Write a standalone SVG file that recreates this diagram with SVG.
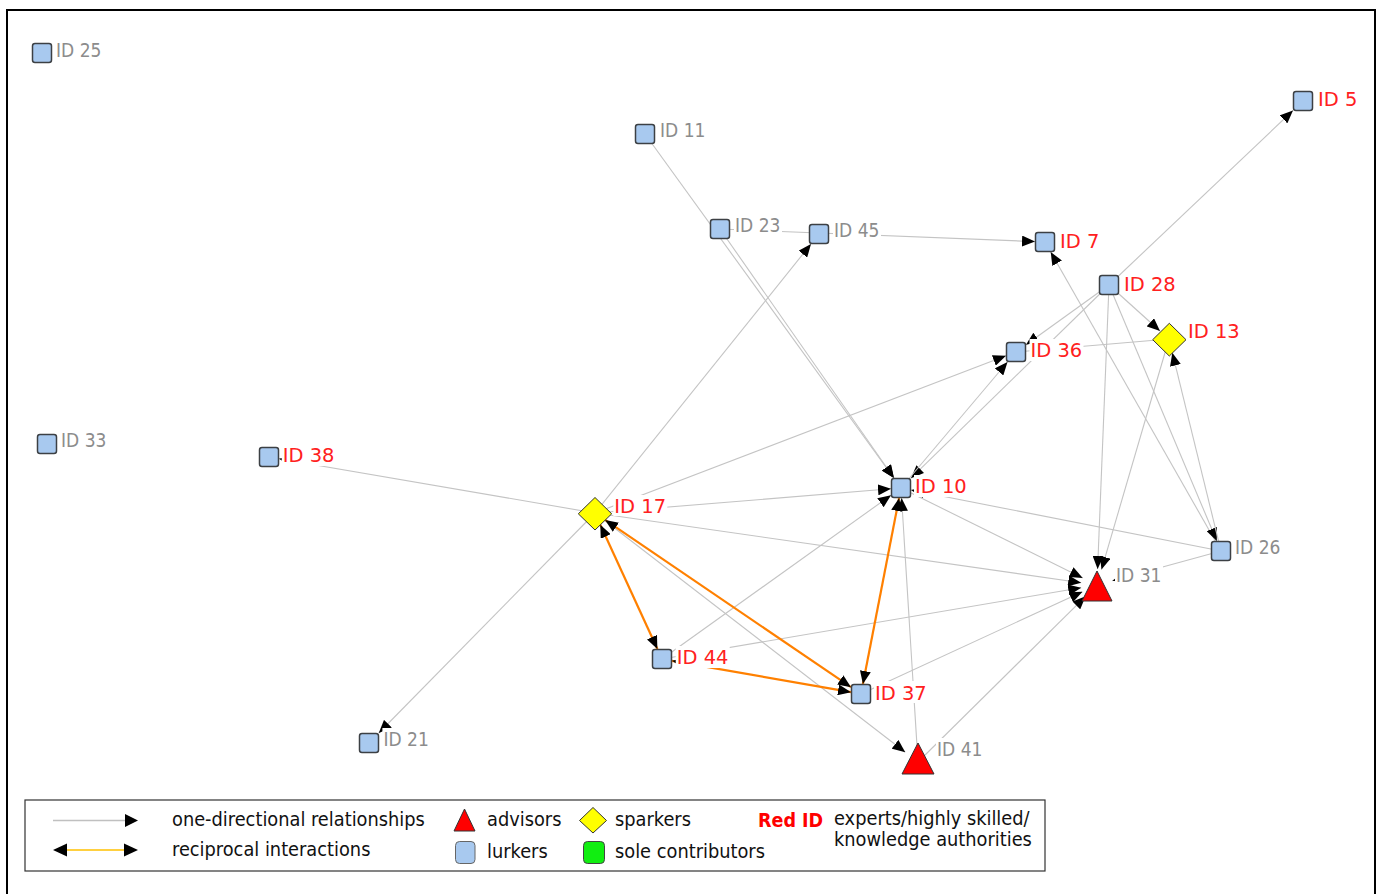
<svg xmlns="http://www.w3.org/2000/svg" width="1380" height="894" viewBox="0 0 1380 894">
<style>
.e{stroke:#c4c4c4;stroke-width:1.1;fill:none;marker-end:url(#ah)}
.p{stroke:#c4c4c4;stroke-width:1.1;fill:none}
.o{stroke:#ff8000;stroke-width:2.2;fill:none;marker-start:url(#ahr);marker-end:url(#ahr)}
.sq{fill:#a8c9ef;stroke:#3c4044;stroke-width:1.5}
.dm{fill:#ffff00;stroke:#333;stroke-width:1}
.tr{fill:#ff0000;stroke:#333;stroke-width:1}
.bg{fill:#fff}
.lr{font-family:'DejaVu Sans',Verdana,sans-serif;font-size:19.5px;fill:#ff2020}
.lg{font-family:'DejaVu Sans Condensed','DejaVu Sans',sans-serif;font-stretch:condensed;font-size:19px;fill:#8c8c8c}
.lt{font-family:'DejaVu Sans Condensed','DejaVu Sans',sans-serif;font-stretch:condensed;font-size:19.8px;fill:#111}
</style>
<defs>
<marker id="ah" viewBox="0 0 13 11" refX="13" refY="5.5" markerWidth="13" markerHeight="11" markerUnits="userSpaceOnUse" orient="auto"><path d="M0,0L13,5.5L0,11z" fill="#000"/></marker>
<marker id="ahr" viewBox="0 0 13 11" refX="13" refY="5.5" markerWidth="13" markerHeight="11" markerUnits="userSpaceOnUse" orient="auto-start-reverse"><path d="M0,0L13,5.5L0,11z" fill="#000"/></marker>
</defs>
<rect x="0" y="0" width="1380" height="894" fill="#fff"/>
<rect x="7" y="10" width="1368" height="900" fill="none" stroke="#000" stroke-width="2"/>

<g id="connectors">
<line class="e" x1="645" y1="134" x2="893.8" y2="478"/>
<line class="e" x1="720" y1="229" x2="894" y2="478"/>
<line class="e" x1="720" y1="229" x2="1035" y2="241.6"/>
<line class="e" x1="595" y1="513" x2="811" y2="244"/>
<line class="e" x1="595" y1="513" x2="378.8" y2="733"/>
<line class="e" x1="1109" y1="285" x2="1293" y2="110.5"/>
<line class="e" x1="1221" y1="551" x2="1050.7" y2="252"/>
<line class="e" x1="1109" y1="285" x2="1160" y2="331"/>
<line class="e" x1="1109" y1="285" x2="1026" y2="344.8"/>
<line class="e" x1="1109" y1="285" x2="911" y2="478.2"/>
<line class="e" x1="901" y1="488" x2="1007.5" y2="362"/>
<line class="p" x1="1169" y1="339" x2="1016" y2="352"/>
<line class="e" x1="1109" y1="285" x2="1097.6" y2="569"/>
<line class="e" x1="1169" y1="339" x2="1101.5" y2="569.6"/>
<line class="e" x1="1109" y1="285" x2="1216.8" y2="541"/>
<line class="e" x1="1221" y1="551" x2="1172.3" y2="352.7"/>
<line class="e" x1="1221" y1="551" x2="911" y2="490"/>
<line class="e" x1="1221" y1="551" x2="1112.4" y2="580.8"/>
<line class="e" x1="901" y1="488" x2="1082.7" y2="577.9"/>
<line class="e" x1="595" y1="513" x2="1081.2" y2="582.7"/>
<line class="e" x1="662" y1="659" x2="1081.2" y2="587.7"/>
<line class="e" x1="861" y1="694" x2="1082.5" y2="591.7"/>
<line class="e" x1="918" y1="762" x2="1085.6" y2="596.3"/>
<line class="e" x1="595" y1="513" x2="891" y2="488.8"/>
<line class="e" x1="595" y1="513" x2="1006" y2="355.8"/>
<line class="e" x1="595" y1="513" x2="279" y2="458.7"/>
<line class="e" x1="595" y1="513" x2="905.3" y2="752.2"/>
<line class="e" x1="918" y1="762" x2="901.6" y2="498"/>
<line class="e" x1="662" y1="659" x2="891" y2="495.2"/>
<line class="o" x1="600.3" y1="524.7" x2="657.4" y2="649"/>
<line class="o" x1="605.1" y1="519.9" x2="851" y2="687.2"/>
<line class="o" x1="899.1" y1="498" x2="862.9" y2="684"/>
<line class="o" x1="672" y1="660.8" x2="851" y2="692.2"/>
</g>

<g id="n25"><rect class="sq" x="32.5" y="43.5" width="19" height="19" rx="2.5"/><rect class="bg" x="55" y="39" width="48" height="22"/><text class="lg" x="56" y="57">ID 25</text></g>
<g id="n11"><rect class="sq" x="635.5" y="124.5" width="19" height="19" rx="2.5"/><rect class="bg" x="659" y="120" width="48" height="22"/><text class="lg" x="660" y="137">ID 11</text></g>
<g id="n23"><rect class="sq" x="710.5" y="219.5" width="19" height="19" rx="2.5"/><rect class="bg" x="734" y="214" width="48" height="22"/><text class="lg" x="735" y="232">ID 23</text></g>
<g id="n45"><rect class="sq" x="809.5" y="224.5" width="19" height="19" rx="2.5"/><rect class="bg" x="833" y="219" width="48" height="22"/><text class="lg" x="834" y="237">ID 45</text></g>
<g id="n7"><rect class="sq" x="1035.5" y="232.5" width="19" height="19" rx="2.5"/><rect class="bg" x="1059" y="229" width="42" height="23"/><text class="lr" x="1060" y="247.5">ID 7</text></g>
<g id="n5"><rect class="sq" x="1293.5" y="91.5" width="19" height="19" rx="2.5"/><rect class="bg" x="1317" y="88" width="42" height="23"/><text class="lr" x="1318" y="106">ID 5</text></g>
<g id="n28"><rect class="sq" x="1099.5" y="275.5" width="19" height="19" rx="2.5"/><rect class="bg" x="1123" y="273" width="54" height="22"/><text class="lr" x="1124" y="291">ID 28</text></g>
<g id="n13"><polygon class="dm" points="1169.3,323.3 1186,339.7 1169.3,356 1152.7,339.7"/><rect class="bg" x="1187" y="320" width="54" height="22"/><text class="lr" x="1188" y="338">ID 13</text></g>
<g id="n36"><rect class="sq" x="1006.5" y="342.5" width="19" height="19" rx="2.5"/><rect class="bg" x="1029.5" y="339" width="54" height="22"/><text class="lr" x="1030.5" y="356.7">ID 36</text></g>
<g id="n33"><rect class="sq" x="37.5" y="434.5" width="19" height="19" rx="2.5"/><rect class="bg" x="60" y="429" width="48" height="22"/><text class="lg" x="61" y="447">ID 33</text></g>
<g id="n38"><rect class="sq" x="259.5" y="447.5" width="19" height="19" rx="2.5"/><rect class="bg" x="281.7" y="444" width="54" height="22"/><text class="lr" x="282.7" y="462">ID 38</text></g>
<g id="n10"><rect class="sq" x="891.5" y="478.5" width="19" height="19" rx="2.5"/><rect class="bg" x="914" y="475" width="54" height="22"/><text class="lr" x="915" y="493">ID 10</text></g>
<g id="n17"><polygon class="dm" points="595,497.5 611.7,513.8 595,530 578.3,513.8"/><rect class="bg" x="613.3" y="495" width="54" height="21"/><text class="lr" x="614.3" y="512.5">ID 17</text></g>
<g id="n26"><rect class="sq" x="1211.5" y="541.5" width="19" height="19" rx="2.5"/><rect class="bg" x="1234" y="536" width="48" height="22"/><text class="lg" x="1235" y="554">ID 26</text></g>
<g id="n31"><polygon class="tr" points="1097,571 1112,601 1082,601"/><rect class="bg" x="1115" y="564" width="48" height="22"/><text class="lg" x="1116" y="582">ID 31</text></g>
<g id="n44"><rect class="sq" x="652.5" y="649.5" width="19" height="19" rx="2.5"/><rect class="bg" x="675.7" y="646" width="54" height="22"/><text class="lr" x="676.7" y="664">ID 44</text></g>
<g id="n37"><rect class="sq" x="851.5" y="684.5" width="19" height="19" rx="2.5"/><rect class="bg" x="874" y="681" width="54" height="22"/><text class="lr" x="875" y="699.5">ID 37</text></g>
<g id="n21"><rect class="sq" x="359.5" y="733.5" width="19" height="19" rx="2.5"/><rect class="bg" x="382.4" y="728" width="48" height="22"/><text class="lg" x="383.4" y="746">ID 21</text></g>
<g id="n41"><polygon class="tr" points="918,743 934,774 902,774"/><rect class="bg" x="936" y="738" width="48" height="22"/><text class="lg" x="937" y="756">ID 41</text></g>

<g id="legend">
<rect x="25" y="800" width="1020" height="71" fill="#fff" stroke="#333" stroke-width="1.2"/>
<line x1="53" y1="820.5" x2="126" y2="820.5" stroke="#c0c0c0" stroke-width="1.5"/>
<polygon points="125,814 138,820.5 125,827" fill="#000"/>
<line x1="66" y1="850" x2="126" y2="850" stroke="#ffc000" stroke-width="1.5"/>
<polygon points="53,850 67,843.5 67,856.5" fill="#000"/>
<polygon points="138,850 124,843.5 124,856.5" fill="#000"/>
<text class="lt" x="172" y="826">one-directional relationships</text>
<text class="lt" x="172" y="856">reciprocal interactions</text>
<polygon points="464.5,809 475,831 454,831" fill="#ff0000" stroke="#333" stroke-width="1"/>
<text class="lt" x="487" y="826">advisors</text>
<rect x="455.5" y="841.5" width="19.5" height="22" rx="4" fill="#a8c9ef" stroke="#666" stroke-width="1"/>
<text class="lt" x="487" y="857.5">lurkers</text>
<polygon points="593,807.5 606.5,820.5 593,833 579.5,820.5" fill="#ffff00" stroke="#333" stroke-width="1"/>
<text class="lt" x="615" y="826">sparkers</text>
<rect x="583.5" y="841.5" width="21" height="22" rx="4" fill="#11ee11" stroke="#444" stroke-width="1"/>
<text class="lt" x="615" y="858">sole contributors</text>
<text x="758" y="827" font-family="'DejaVu Sans Condensed','DejaVu Sans',sans-serif" font-stretch="condensed" font-weight="bold" font-size="19.5" fill="#ff0000">Red ID</text>
<text class="lt" x="834" y="825">experts/highly skilled/</text>
<text class="lt" x="834" y="846">knowledge authorities</text>
</g>
</svg>
